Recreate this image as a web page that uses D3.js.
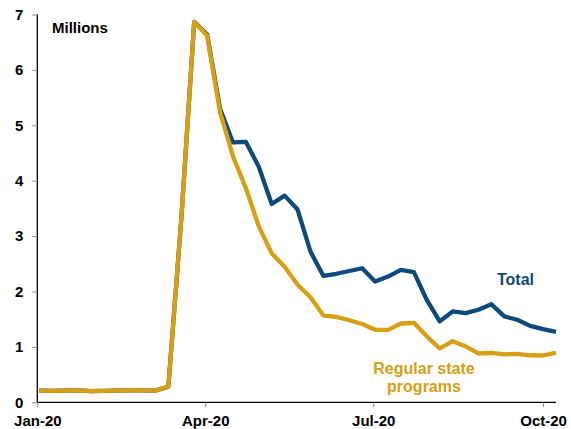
<!DOCTYPE html>
<html>
<head>
<meta charset="utf-8">
<script src="https://cdn.jsdelivr.net/npm/d3@7"></script>
<style>
  html, body { margin: 0; padding: 0; background: #fff; }
  svg { display: block; font-family: "Liberation Sans", Arial, sans-serif; }
</style>
</head>
<body>
<svg id="chart" width="571" height="429"></svg>
<script>
const weeks = [
  "2020-01-02","2020-01-09","2020-01-16","2020-01-23","2020-01-30",
  "2020-02-06","2020-02-13","2020-02-20","2020-02-27","2020-03-05",
  "2020-03-12","2020-03-19","2020-03-26","2020-04-02","2020-04-09",
  "2020-04-16","2020-04-23","2020-04-30","2020-05-07","2020-05-14",
  "2020-05-21","2020-05-28","2020-06-04","2020-06-11","2020-06-18",
  "2020-06-25","2020-07-02","2020-07-09","2020-07-16","2020-07-23",
  "2020-07-30","2020-08-06","2020-08-13","2020-08-20","2020-08-27",
  "2020-09-03","2020-09-10","2020-09-17","2020-09-24","2020-10-01",
  "2020-10-08"
];
const regularState = [
  0.216,0.207,0.212,0.216,0.203,
  0.205,0.211,0.219,0.217,0.211,
  0.282,3.307,6.867,6.615,5.237,
  4.442,3.867,3.176,2.687,2.446,
  2.123,1.897,1.566,1.540,1.482,
  1.413,1.310,1.307,1.422,1.435,
  1.191,0.971,1.104,1.011,0.881,
  0.893,0.866,0.873,0.849,0.845,
  0.898
];
const total = [
  0.216,0.207,0.212,0.216,0.203,
  0.205,0.211,0.219,0.217,0.211,
  0.282,3.307,6.867,6.640,5.300,
  4.690,4.700,4.250,3.580,3.730,
  3.480,2.720,2.280,2.320,2.370,
  2.420,2.180,2.270,2.390,2.350,
  1.850,1.460,1.640,1.610,1.670,
  1.770,1.550,1.490,1.380,1.320,
  1.270
];
const yTicks = [0,1,2,3,4,5,6,7];
const xTickDates = ["2020-01-01","2020-04-01","2020-07-01","2020-10-01"];
const xTickLabels = ["Jan-20","Apr-20","Jul-20","Oct-20"];

const parse = d3.timeParse("%Y-%m-%d");
const svg = d3.select("#chart");

const x = d3.scaleTime()
  .domain([parse("2020-01-01"), parse("2020-10-08")])
  .range([37.3, 556]);
const y = d3.scaleLinear().domain([0, 7]).range([402.3, 14.5]);

const blue = "#0B4A7B";
const gold = "#D89E14";

// Y axis
const yAxis = svg.append("g").attr("transform", "translate(37.3,0)")
  .call(d3.axisLeft(y).tickValues(yTicks).tickSize(5).tickPadding(9).tickFormat(d3.format("d")));
yAxis.select(".domain").attr("stroke", "#000").attr("stroke-width", 1.3).attr("d", "M0," + y(7) + "V" + y(0));
yAxis.selectAll(".tick line").attr("stroke", "#888");
yAxis.selectAll(".tick text").attr("font-size", 15).attr("font-weight", "bold").attr("fill", "#000")
  .attr("font-family", "Liberation Sans, Arial, sans-serif");

// X axis
const xAxis = svg.append("g").attr("transform", "translate(0," + y(0) + ")")
  .call(d3.axisBottom(x).tickValues(xTickDates.map(parse)).tickSize(5).tickPadding(8)
    .tickFormat((d, i) => xTickLabels[i]));
xAxis.select(".domain").attr("stroke", "#000").attr("stroke-width", 1.3).attr("d", "M37.3,0H556");
xAxis.selectAll(".tick line").attr("stroke", "#888");
xAxis.selectAll(".tick text").attr("font-size", 15).attr("font-weight", "bold").attr("fill", "#000")
  .attr("font-family", "Liberation Sans, Arial, sans-serif");

// Lines
const line = d3.line()
  .x((d, i) => x(parse(weeks[i])))
  .y(d => y(d))
  .curve(d3.curveLinear);

svg.append("path").datum(total)
  .attr("d", line).attr("fill", "none").attr("stroke", blue)
  .attr("stroke-width", 4.3).attr("stroke-linejoin", "round");

svg.append("path").datum(regularState)
  .attr("d", line).attr("fill", "none").attr("stroke", gold)
  .attr("stroke-width", 4.3).attr("stroke-linejoin", "round");

// Labels
svg.append("text").attr("x", 52).attr("y", 33).text("Millions")
  .attr("font-size", 15).attr("font-weight", "bold").attr("fill", "#000");
svg.append("text").attr("x", 497).attr("y", 285).text("Total")
  .attr("font-size", 16).attr("font-weight", "bold").attr("fill", blue);
svg.append("text").attr("x", 424).attr("y", 374).attr("text-anchor", "middle").text("Regular state")
  .attr("font-size", 16).attr("font-weight", "bold").attr("fill", gold);
svg.append("text").attr("x", 424).attr("y", 392).attr("text-anchor", "middle").text("programs")
  .attr("font-size", 16).attr("font-weight", "bold").attr("fill", gold);
</script>
</body>
</html>
